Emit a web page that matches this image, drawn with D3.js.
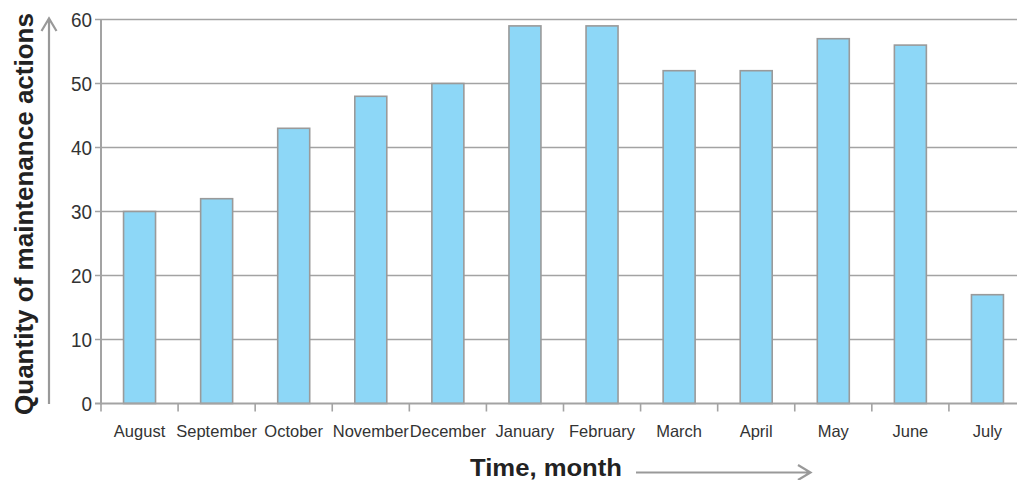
<!DOCTYPE html>
<html>
<head>
<meta charset="utf-8">
<script src="https://cdn.jsdelivr.net/npm/d3@7"></script>
<style>
  html, body { margin: 0; padding: 0; background: #fff; }
  svg { display: block; font-family: "Liberation Sans", Arial, Helvetica, sans-serif; }
</style>
</head>
<body>
<svg id="chart" width="1017" height="480"></svg>
<script>
const months = ["August","September","October","November","December","January","February","March","April","May","June","July"];
const actions = [30, 32, 43, 48, 50, 59, 59, 52, 52, 57, 56, 17];
const yTicks = [0, 10, 20, 30, 40, 50, 60];
const yTitle = "Quantity of maintenance actions";
const xTitle = "Time, month";

(function () {
const svg = d3.select("#chart");
const W = 1017;
const pLeft = 101, pRight = 1026, pTop = 19.5, pBottom = 403.5;
const gridColor = "#a3a3a3";

const x = d3.scaleBand().domain(months).range([pLeft, pRight]).paddingInner(0.585).paddingOuter(0.2925);
const y = d3.scaleLinear().domain([0, 60]).range([pBottom, pTop]);
const step = x.step();

// horizontal gridlines (with small left tick extension)
svg.append("g").selectAll("line").data(yTicks.filter(d => d > 0)).join("line")
  .attr("x1", pLeft - 6).attr("x2", W)
  .attr("y1", d => y(d)).attr("y2", d => y(d))
  .attr("stroke", gridColor).attr("stroke-width", 1.6);

// y tick labels
svg.append("g").selectAll("text").data(yTicks).join("text")
  .attr("x", pLeft - 9).attr("y", d => y(d)).attr("dy", "0.36em")
  .attr("text-anchor", "end").attr("font-size", 20).attr("fill", "#333")
  .attr("textLength", d => String(d).length * 10.5).attr("lengthAdjust", "spacingAndGlyphs")
  .text(d => d);

// bars
svg.append("g").selectAll("rect").data(months).join("rect")
  .attr("x", d => x(d)).attr("width", x.bandwidth())
  .attr("y", (d, i) => y(actions[i]))
  .attr("height", (d, i) => y(0) - y(actions[i]))
  .attr("fill", "#8dd7f7").attr("stroke", "#9a9a9a").attr("stroke-width", 1.6);

// axis lines
svg.append("line").attr("x1", pLeft).attr("x2", pLeft).attr("y1", pTop).attr("y2", pBottom + 1)
  .attr("stroke", gridColor).attr("stroke-width", 2);
svg.append("line").attr("x1", pLeft - 6).attr("x2", W).attr("y1", pBottom).attr("y2", pBottom)
  .attr("stroke", gridColor).attr("stroke-width", 2);

// x tick marks at band boundaries
svg.append("g").selectAll("line").data(months).join("line")
  .attr("x1", d => x(d) - step * 0.2925).attr("x2", d => x(d) - step * 0.2925)
  .attr("y1", pBottom).attr("y2", pBottom + 8)
  .attr("stroke", gridColor).attr("stroke-width", 1.6);

// month labels
svg.append("g").selectAll("text").data(months).join("text")
  .attr("x", d => x(d) + x.bandwidth() / 2).attr("y", 437)
  .attr("text-anchor", "middle").attr("font-size", 16.5).attr("fill", "#333")
  .text(d => d);

// y title
svg.append("text")
  .attr("transform", "translate(33,214) rotate(-90)")
  .attr("text-anchor", "middle").attr("font-size", 26).attr("font-weight", "bold").attr("fill", "#222")
  .attr("textLength", 402).attr("lengthAdjust", "spacingAndGlyphs")
  .text(yTitle);

// x title
svg.append("text")
  .attr("x", 470).attr("y", 475.5)
  .attr("font-size", 23).attr("font-weight", "bold").attr("fill", "#222")
  .attr("textLength", 152).attr("lengthAdjust", "spacingAndGlyphs")
  .text(xTitle);

// arrows
const arrowColor = "#999";
svg.append("path").attr("d", "M49,404 L49,19 M41.5,31 L49,18.5 L56.5,31")
  .attr("fill", "none").attr("stroke", arrowColor).attr("stroke-width", 2.2);
svg.append("path").attr("d", "M636,472.5 L810,472.5 M798,465 L810.5,472.5 L798,480")
  .attr("fill", "none").attr("stroke", arrowColor).attr("stroke-width", 2.2);
})();
</script>
</body>
</html>
